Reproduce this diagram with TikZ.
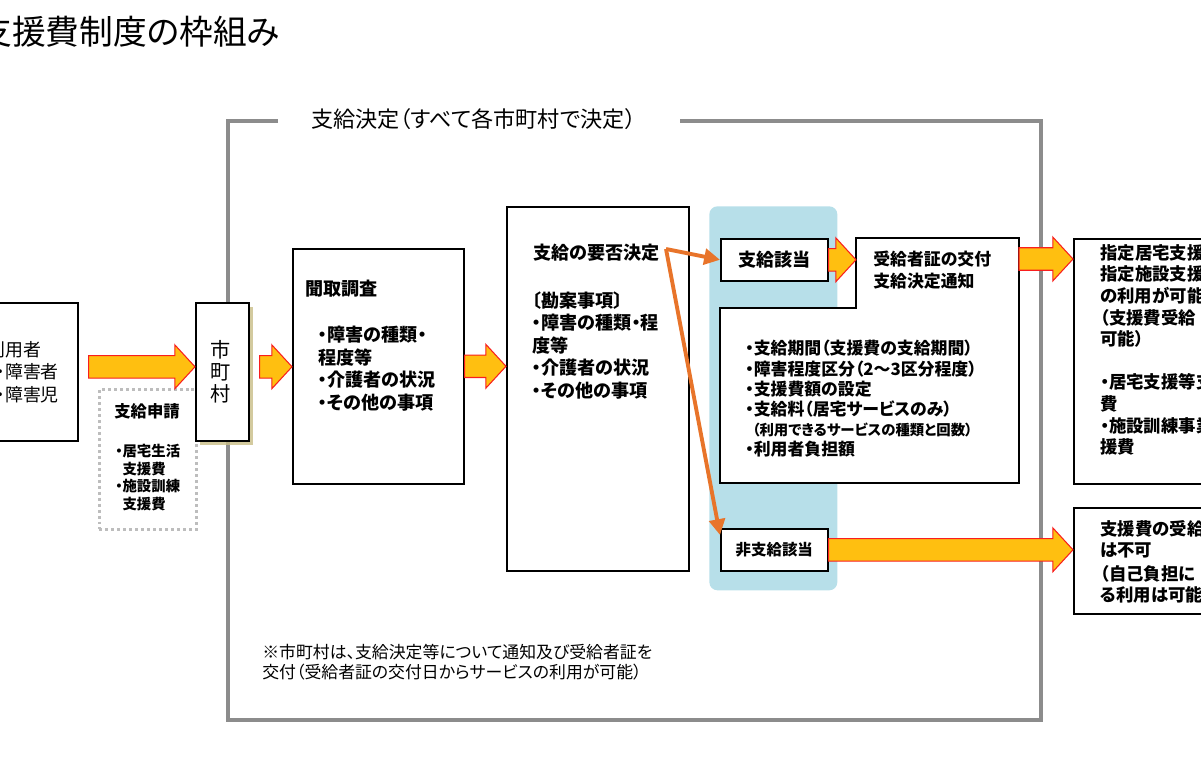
\documentclass[tikz,border=0pt]{standalone}
\usepackage{fontspec}
\setmainfont{Noto Sans CJK JP}[RawFeature=+palt]
\usetikzlibrary{arrows.meta,shadows,calc}
\definecolor{framegray}{HTML}{8C8C8C}
\definecolor{dotgray}{HTML}{BDBDBD}
\definecolor{paleblue}{HTML}{B7DFE9}
\definecolor{arrowfill}{HTML}{FFBF10}
\definecolor{arrowline}{HTML}{F81E1E}
\definecolor{decorange}{HTML}{E8742A}
\definecolor{shadowol}{HTML}{C8BD86}

\newcommand\blockarrow[2]{%
  \draw[barrow] let \p1=(#1), \p2=(#2) in
    (\x1,\y1+6.4pt) -- (\x2-11.5pt,\y1+6.4pt) -- (\x2-11.5pt,\y1+12.5pt)
    -- (\x2,\y1) -- (\x2-11.5pt,\y1-12.5pt) -- (\x2-11.5pt,\y1-6.4pt)
    -- (\x1,\y1-6.4pt) -- cycle;}

\begin{document}
\begin{tikzpicture}[x=0.02cm,y=-0.02cm,
  box/.style={draw=black,line width=0.9pt,fill=white,inner sep=0pt,anchor=north west},
  txt/.style={anchor=north west,align=left,inner sep=0pt,font=\bfseries\fontsize{10.3}{12.8}\selectfont},
  barrow/.style={fill=arrowfill,draw=arrowline,line width=0.6pt},
  frame/.style={draw=framegray,line width=2.3pt},
  decision/.style={draw=decorange,line width=2.2pt,-{Triangle[length=9pt,width=9pt]}}]

\useasboundingbox (0,0) rectangle (1201,779);
\clip (0,0) rectangle (1201,779);

\node[anchor=west,inner sep=0pt,font=\fontsize{19.2}{22}\selectfont] (title) at (-22,32) {支援費制度の枠組み};

\node[fill=paleblue,rounded corners=0.16cm,minimum width=2.56cm,minimum height=7.68cm,
      anchor=north west,inner sep=0pt] (band) at (709,206) {};

\draw[frame] (278,121) -- (228,121) -- (228,720) -- (1041,720) -- (1041,121) -- (680,121);
\node[anchor=west,inner sep=0pt,font=\fontsize{12.6}{14}\selectfont] (kettei) at (311,119)
  {支給決定（すべて各市町村で決定）};

\node[box,minimum width=1.94cm,minimum height=2.76cm] (user) at (-20,302) {};
\node[txt,font=\fontsize{10.2}{12.75}\selectfont] (usertxt) at (-13,341)
  {利用者\\\hspace{5pt}・障害者\\\hspace{5pt}・障害児};

\node[draw=dotgray,line width=1.7pt,dash pattern=on 1.7pt off 1.7pt,minimum width=1.94cm,
      minimum height=2.8cm,anchor=north west,inner sep=0pt] (shinsei) at (98,388) {};
\node[inner sep=0pt,font=\bfseries\fontsize{9.3}{11}\selectfont] (shinseihead) at (147,411) {支給申請};
\node[txt,font=\bfseries\fontsize{8.2}{10}\selectfont] (shinseitxt) at (115,444)
  {・居宅生活\\\phantom{・}支援費\\・施設訓練\\\phantom{・}支援費};

\node[box,minimum width=1.06cm,minimum height=2.76cm,
      drop shadow={shadow xshift=2.5pt,shadow yshift=-2.5pt,fill=shadowol,opacity=0.8}] (shichoson) at (195,302) {};
\node[inner sep=0pt,align=center,font=\fontsize{11.5}{12.6}\selectfont] (shichosontxt) at (221,372) {市\\町\\村};

\node[box,minimum width=3.42cm,minimum height=4.7cm] (kikitori) at (292,248) {};
\node[txt] (kikitorihead) at (305,280) {聞取調査};
\node[txt] (kikitorilist) at (318,326)
  {・障害の種類・\\程度等\\・介護者の状況\\・その他の事項};

\node[box,minimum width=3.64cm,minimum height=7.28cm] (yohi) at (506,206) {};
\node[txt] (yohihead) at (533,244) {支給の要否決定};
\node[txt] (yohilist) at (532,291)
  {〔勘案事項〕\\・障害の種類・程\\度等\\・介護者の状況\\・その他の事項};

\node[box,minimum width=2.14cm,minimum height=0.84cm,font=\bfseries\fontsize{10.3}{12}\selectfont] (gaito) at (720,238) {支給該当};
\node[box,minimum width=2.14cm,minimum height=0.84cm,font=\bfseries\fontsize{8.8}{11}\selectfont] (higaito) at (720,528) {非支給該当};

\draw[line width=0.9pt,fill=white] (856,238) -- (1019,238) -- (1019,483) -- (720,483) -- (720,308) -- (856,308) -- cycle;
\coordinate (jukyuin) at (856,259);
\coordinate (jukyuout) at (1019,259);
\node[txt,font=\bfseries\fontsize{9.6}{12.4}\selectfont] (jukyuhead) at (873,251)
  {受給者証の交付\\支給決定通知};
\node[txt,font=\bfseries\fontsize{9.6}{11.5}\selectfont] (jukyulist) at (745,340)
  {・支給期間（支援費の支給期間）\\・障害程度区分（2～3区分程度）\\・支援費額の設定\\
   ・支給料（居宅サービスのみ）\\{\fontsize{8.2}{11.5}\selectfont\hspace{4pt}（利用できるサービスの種類と回数）}\\・利用者負担額};

\node[box,minimum width=3.4cm,minimum height=4.9cm] (shitei) at (1073,238) {};
\node[txt,font=\bfseries\fontsize{9.9}{12.3}\selectfont] (shiteitxt) at (1100,244)
  {指定居宅支援\\指定施設支援\\の利用が可能\\（支援費受給\\可能）\\ \\・居宅支援等支援\\費\\・施設訓練事業支\\援費};

\node[box,minimum width=3.4cm,minimum height=2.12cm] (fuka) at (1073,507) {};
\node[txt,font=\bfseries\fontsize{9.9}{11.9}\selectfont] (fukatxt) at (1100,520)
  {支援費の受給\\は不可\\[2pt]（自己負担に\\る利用は可能};

\node[txt,font=\fontsize{9.6}{11.2}\selectfont] (note) at (262,644)
  {※市町村は、支給決定等について通知及び受給者証を\\交付（受給者証の交付日からサービスの利用が可能）};

\blockarrow{$(user.east)+(10,-5)$}{shichoson.west}
\blockarrow{$(shichoson.east)+(10,-5)$}{kikitori.west}
\blockarrow{kikitori.east}{yohi.west}
\blockarrow{gaito.east}{jukyuin}
\blockarrow{jukyuout}{shitei.west}
\blockarrow{higaito.east}{fuka.west}

\coordinate (dec) at (666,249);
\draw[decision] (dec) -- (gaito.west);
\draw[decision] (dec) -- ($(higaito.north west)+(0,7)$);
\end{tikzpicture}
\end{document}
